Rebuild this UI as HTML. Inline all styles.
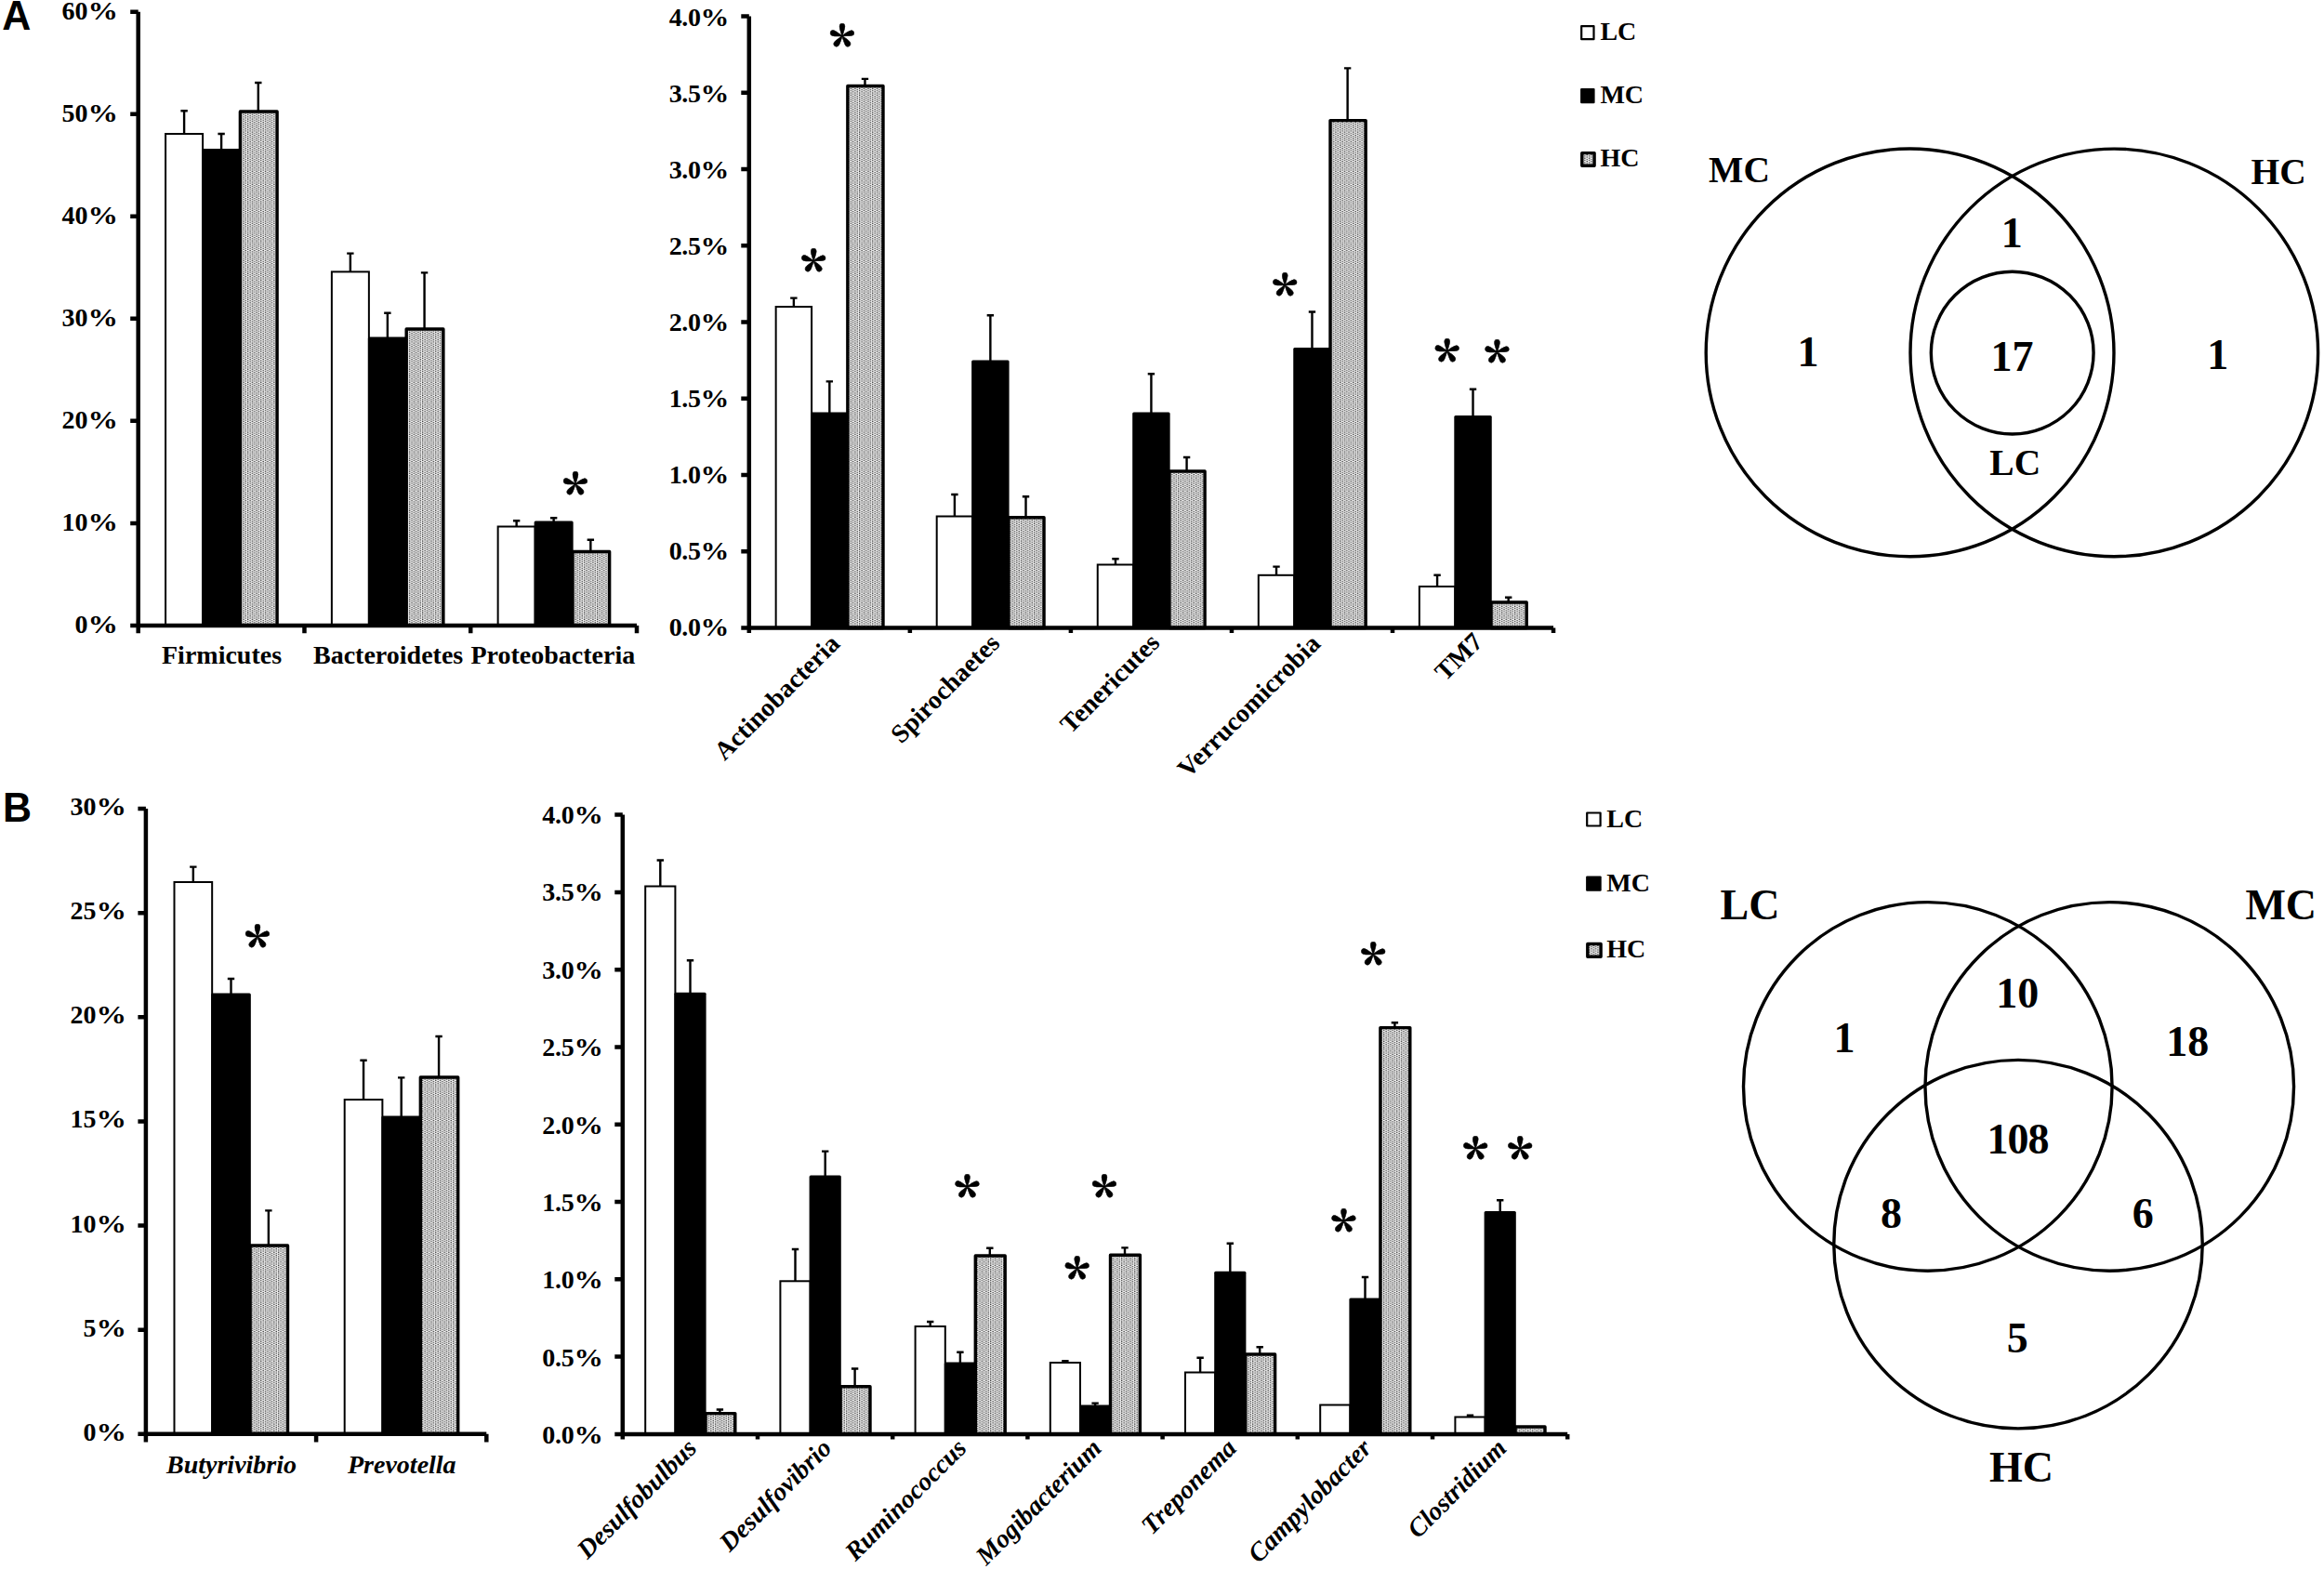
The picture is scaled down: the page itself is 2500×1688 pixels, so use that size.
<!DOCTYPE html>
<html lang="en"><head><meta charset="utf-8"><title>Figure</title>
<style>html,body{margin:0;padding:0;background:#fff}svg{display:block}text{font-family:"Liberation Serif",serif;font-weight:bold;font-size:28px;fill:#000}.pl{font-family:"Liberation Sans",sans-serif;font-weight:bold;font-size:43px}.vl{font-size:39.5px}.vn{font-size:46px}.vb{font-size:46px}.st{font-family:"Noto Serif CJK SC","Liberation Serif",serif;font-weight:900;font-size:56px;text-anchor:middle;stroke:#000;stroke-width:0.5px;stroke-linejoin:round}</style></head><body>
<svg width="2500" height="1688" viewBox="0 0 2500 1688">
<defs><pattern id="dots" width="4.7" height="2.34" patternUnits="userSpaceOnUse"><rect width="4.7" height="2.34" fill="#eeeeee"/><circle cx="1.17" cy="0.58" r="0.68" fill="#2a2a2a"/><circle cx="3.52" cy="1.75" r="0.68" fill="#2a2a2a"/></pattern></defs>
<rect width="2500" height="1688" fill="#fff"/>
<text class="pl" transform="translate(2.2 31.8) scale(1 1.04)">A</text>
<text class="pl" transform="translate(3.1 884) scale(1 1.04)">B</text>
<rect x="178.1" y="144" width="40" height="528.9" fill="#fff" stroke="#000" stroke-width="2"/>
<path d="M198.1 144V119.3M194.4 119.3H201.8" stroke="#000" stroke-width="2.4" fill="none"/>
<rect x="217.1" y="160" width="42" height="512.9" fill="#000" rx="1.5"/>
<path d="M238.1 161V144M234.4 144H241.8" stroke="#000" stroke-width="2.4" fill="none"/>
<rect x="258.4" y="120" width="39.7" height="552.9" fill="url(#dots)" stroke="#000" stroke-width="3.4" stroke-linejoin="round"/>
<path d="M277.8 120V89M274.1 89H281.5" stroke="#000" stroke-width="2.4" fill="none"/>
<rect x="356.87" y="292.4" width="40" height="380.5" fill="#fff" stroke="#000" stroke-width="2"/>
<path d="M376.87 292.4V272.6M373.17 272.6H380.57" stroke="#000" stroke-width="2.4" fill="none"/>
<rect x="395.87" y="362.5" width="42" height="310.4" fill="#000" rx="1.5"/>
<path d="M416.87 363.5V336.7M413.17 336.7H420.57" stroke="#000" stroke-width="2.4" fill="none"/>
<rect x="437.17" y="354" width="39.7" height="318.9" fill="url(#dots)" stroke="#000" stroke-width="3.4" stroke-linejoin="round"/>
<path d="M456.57 354V293.4M452.87 293.4H460.27" stroke="#000" stroke-width="2.4" fill="none"/>
<rect x="535.64" y="566.5" width="40" height="106.4" fill="#fff" stroke="#000" stroke-width="2"/>
<path d="M555.64 566.5V560.3M551.94 560.3H559.34" stroke="#000" stroke-width="2.4" fill="none"/>
<rect x="574.64" y="560.5" width="42" height="112.4" fill="#000" rx="1.5"/>
<path d="M595.64 561.5V557.2M591.94 557.2H599.34" stroke="#000" stroke-width="2.4" fill="none"/>
<rect x="615.94" y="593.5" width="39.7" height="79.4" fill="url(#dots)" stroke="#000" stroke-width="3.4" stroke-linejoin="round"/>
<path d="M635.34 593.5V580.7M631.64 580.7H639.04" stroke="#000" stroke-width="2.4" fill="none"/>
<path d="M148.7 12.8V681.2M140.2 672.9H685.01M140.2 12.8H148.7M140.2 122.82H148.7M140.2 232.83H148.7M140.2 342.85H148.7M140.2 452.87H148.7M140.2 562.88H148.7M327.47 672.9V681.2M506.24 672.9V681.2M685.01 672.9V681.2" stroke="#000" stroke-width="4.5" fill="none"/>
<text x="127.1" y="21" text-anchor="end">60<tspan textLength="32.5" lengthAdjust="spacingAndGlyphs" letter-spacing="0">%</tspan></text>
<text x="127.1" y="131.03" text-anchor="end">50<tspan textLength="32.5" lengthAdjust="spacingAndGlyphs" letter-spacing="0">%</tspan></text>
<text x="127.1" y="241.07" text-anchor="end">40<tspan textLength="32.5" lengthAdjust="spacingAndGlyphs" letter-spacing="0">%</tspan></text>
<text x="127.1" y="351.1" text-anchor="end">30<tspan textLength="32.5" lengthAdjust="spacingAndGlyphs" letter-spacing="0">%</tspan></text>
<text x="127.1" y="461.13" text-anchor="end">20<tspan textLength="32.5" lengthAdjust="spacingAndGlyphs" letter-spacing="0">%</tspan></text>
<text x="127.1" y="571.17" text-anchor="end">10<tspan textLength="32.5" lengthAdjust="spacingAndGlyphs" letter-spacing="0">%</tspan></text>
<text x="127.1" y="681.2" text-anchor="end">0<tspan textLength="32.5" lengthAdjust="spacingAndGlyphs" letter-spacing="0">%</tspan></text>
<text x="174" y="714">Firmicutes</text>
<text x="337" y="714">Bacteroidetes</text>
<text x="506.5" y="714">Proteobacteria</text>
<text class="st" x="618.84" y="554.1">*</text>
<rect x="834.65" y="330" width="38.45" height="345.5" fill="#fff" stroke="#000" stroke-width="2"/>
<path d="M853.88 330V320.6M850.17 320.6H857.58" stroke="#000" stroke-width="2.4" fill="none"/>
<rect x="872.1" y="443.5" width="40.45" height="232" fill="#000" rx="1.5"/>
<path d="M892.33 444.5V410.4M888.62 410.4H896.03" stroke="#000" stroke-width="2.4" fill="none"/>
<rect x="911.85" y="92.5" width="38.15" height="583" fill="url(#dots)" stroke="#000" stroke-width="3.4" stroke-linejoin="round"/>
<path d="M930.48 92.5V84.9M926.77 84.9H934.18" stroke="#000" stroke-width="2.4" fill="none"/>
<rect x="1007.7" y="555.5" width="38.45" height="120" fill="#fff" stroke="#000" stroke-width="2"/>
<path d="M1026.92 555.5V532M1023.22 532H1030.62" stroke="#000" stroke-width="2.4" fill="none"/>
<rect x="1045.15" y="387.5" width="40.45" height="288" fill="#000" rx="1.5"/>
<path d="M1065.37 388.5V339.2M1061.67 339.2H1069.07" stroke="#000" stroke-width="2.4" fill="none"/>
<rect x="1084.9" y="556.7" width="38.15" height="118.8" fill="url(#dots)" stroke="#000" stroke-width="3.4" stroke-linejoin="round"/>
<path d="M1103.52 556.7V534.3M1099.82 534.3H1107.22" stroke="#000" stroke-width="2.4" fill="none"/>
<rect x="1180.75" y="607.5" width="38.45" height="68" fill="#fff" stroke="#000" stroke-width="2"/>
<path d="M1199.97 607.5V601.2M1196.27 601.2H1203.67" stroke="#000" stroke-width="2.4" fill="none"/>
<rect x="1218.2" y="443.5" width="40.45" height="232" fill="#000" rx="1.5"/>
<path d="M1238.42 444.5V402.3M1234.72 402.3H1242.12" stroke="#000" stroke-width="2.4" fill="none"/>
<rect x="1257.95" y="507" width="38.15" height="168.5" fill="url(#dots)" stroke="#000" stroke-width="3.4" stroke-linejoin="round"/>
<path d="M1276.58 507V492M1272.88 492H1280.28" stroke="#000" stroke-width="2.4" fill="none"/>
<rect x="1353.8" y="618.8" width="38.45" height="56.7" fill="#fff" stroke="#000" stroke-width="2"/>
<path d="M1373.02 618.8V609.6M1369.32 609.6H1376.72" stroke="#000" stroke-width="2.4" fill="none"/>
<rect x="1391.25" y="374" width="40.45" height="301.5" fill="#000" rx="1.5"/>
<path d="M1411.47 375V335.5M1407.77 335.5H1415.17" stroke="#000" stroke-width="2.4" fill="none"/>
<rect x="1431" y="129.6" width="38.15" height="545.9" fill="url(#dots)" stroke="#000" stroke-width="3.4" stroke-linejoin="round"/>
<path d="M1449.62 129.6V73.4M1445.92 73.4H1453.33" stroke="#000" stroke-width="2.4" fill="none"/>
<rect x="1526.85" y="631" width="38.45" height="44.5" fill="#fff" stroke="#000" stroke-width="2"/>
<path d="M1546.07 631V618.8M1542.37 618.8H1549.77" stroke="#000" stroke-width="2.4" fill="none"/>
<rect x="1564.3" y="447" width="40.45" height="228.5" fill="#000" rx="1.5"/>
<path d="M1584.52 448V418.7M1580.82 418.7H1588.22" stroke="#000" stroke-width="2.4" fill="none"/>
<rect x="1604.05" y="648" width="38.15" height="27.5" fill="url(#dots)" stroke="#000" stroke-width="3.4" stroke-linejoin="round"/>
<path d="M1622.67 648V642.7M1618.97 642.7H1626.38" stroke="#000" stroke-width="2.4" fill="none"/>
<path d="M805.8 17.55V681.1M797.3 675.5H1671.05M797.3 17.55H805.8M797.3 99.79H805.8M797.3 182.04H805.8M797.3 264.28H805.8M797.3 346.53H805.8M797.3 428.77H805.8M797.3 511.01H805.8M797.3 593.26H805.8M978.85 675.5V681.1M1151.9 675.5V681.1M1324.95 675.5V681.1M1498 675.5V681.1M1671.05 675.5V681.1" stroke="#000" stroke-width="4.5" fill="none"/>
<text x="784.3" y="27.7" text-anchor="end" letter-spacing="-0.4">4.0<tspan textLength="30.8" lengthAdjust="spacingAndGlyphs" letter-spacing="0">%</tspan></text>
<text x="784.3" y="109.69" text-anchor="end" letter-spacing="-0.4">3.5<tspan textLength="30.8" lengthAdjust="spacingAndGlyphs" letter-spacing="0">%</tspan></text>
<text x="784.3" y="191.67" text-anchor="end" letter-spacing="-0.4">3.0<tspan textLength="30.8" lengthAdjust="spacingAndGlyphs" letter-spacing="0">%</tspan></text>
<text x="784.3" y="273.66" text-anchor="end" letter-spacing="-0.4">2.5<tspan textLength="30.8" lengthAdjust="spacingAndGlyphs" letter-spacing="0">%</tspan></text>
<text x="784.3" y="355.65" text-anchor="end" letter-spacing="-0.4">2.0<tspan textLength="30.8" lengthAdjust="spacingAndGlyphs" letter-spacing="0">%</tspan></text>
<text x="784.3" y="437.64" text-anchor="end" letter-spacing="-0.4">1.5<tspan textLength="30.8" lengthAdjust="spacingAndGlyphs" letter-spacing="0">%</tspan></text>
<text x="784.3" y="519.62" text-anchor="end" letter-spacing="-0.4">1.0<tspan textLength="30.8" lengthAdjust="spacingAndGlyphs" letter-spacing="0">%</tspan></text>
<text x="784.3" y="601.61" text-anchor="end" letter-spacing="-0.4">0.5<tspan textLength="30.8" lengthAdjust="spacingAndGlyphs" letter-spacing="0">%</tspan></text>
<text x="784.3" y="683.6" text-anchor="end" letter-spacing="-0.4">0.0<tspan textLength="30.8" lengthAdjust="spacingAndGlyphs" letter-spacing="0">%</tspan></text>
<text transform="translate(904.82 694) rotate(-45)" text-anchor="end">Actinobacteria</text>
<text transform="translate(1076.88 693.5) rotate(-45)" text-anchor="end">Spirochaetes</text>
<text transform="translate(1248.92 693) rotate(-45)" text-anchor="end">Tenericutes</text>
<text transform="translate(1421.97 694) rotate(-45)" text-anchor="end">Verrucomicrobia</text>
<text transform="translate(1596.53 692) rotate(-45)" text-anchor="end">TM7</text>
<text class="st" x="905.85" y="71.65">*</text>
<text class="st" x="875.3" y="314.1">*</text>
<text class="st" x="1382.2" y="340">*</text>
<text class="st" x="1556.7" y="411.4">*</text>
<text class="st" x="1610.4" y="412.3">*</text>
<rect x="1701.2" y="28.1" width="13.3" height="14.1" fill="#fff" stroke="#000" stroke-width="2.2" stroke-linejoin="round"/>
<rect x="1700.1" y="94.9" width="15.5" height="16.3" fill="#000" rx="1.2"/>
<rect x="1701.8" y="164.6" width="13.3" height="13.7" fill="url(#dots)" stroke="#000" stroke-width="3.4" stroke-linejoin="round"/>
<text x="1721.4" y="43.3">LC</text>
<text x="1721.4" y="111.2">MC</text>
<text x="1721.4" y="179.2">HC</text>
<rect x="187.5" y="949" width="40.67" height="593.8" fill="#fff" stroke="#000" stroke-width="2"/>
<path d="M207.84 949V932.6M204.14 932.6H211.53" stroke="#000" stroke-width="2.4" fill="none"/>
<rect x="227.17" y="1068.5" width="42.67" height="474.3" fill="#000" rx="1.5"/>
<path d="M248.51 1069.5V1053M244.81 1053H252.21" stroke="#000" stroke-width="2.4" fill="none"/>
<rect x="269.14" y="1340" width="40.37" height="202.8" fill="url(#dots)" stroke="#000" stroke-width="3.4" stroke-linejoin="round"/>
<path d="M288.88 1340V1302.4M285.18 1302.4H292.57" stroke="#000" stroke-width="2.4" fill="none"/>
<rect x="370.7" y="1183" width="40.67" height="359.8" fill="#fff" stroke="#000" stroke-width="2"/>
<path d="M391.04 1183V1140.8M387.34 1140.8H394.74" stroke="#000" stroke-width="2.4" fill="none"/>
<rect x="410.37" y="1200.5" width="42.67" height="342.3" fill="#000" rx="1.5"/>
<path d="M431.71 1201.5V1159.4M428.01 1159.4H435.41" stroke="#000" stroke-width="2.4" fill="none"/>
<rect x="452.34" y="1159" width="40.37" height="383.8" fill="url(#dots)" stroke="#000" stroke-width="3.4" stroke-linejoin="round"/>
<path d="M472.08 1159V1115M468.38 1115H475.78" stroke="#000" stroke-width="2.4" fill="none"/>
<path d="M156.9 870V1551.4M148.4 1542.8H523.3M148.4 870H156.9M148.4 982.13H156.9M148.4 1094.27H156.9M148.4 1206.4H156.9M148.4 1318.53H156.9M148.4 1430.67H156.9M340.1 1542.8V1551.4M523.3 1542.8V1551.4" stroke="#000" stroke-width="4.5" fill="none"/>
<text x="136.1" y="876.8" text-anchor="end">30<tspan textLength="32.5" lengthAdjust="spacingAndGlyphs" letter-spacing="0">%</tspan></text>
<text x="136.1" y="989.02" text-anchor="end">25<tspan textLength="32.5" lengthAdjust="spacingAndGlyphs" letter-spacing="0">%</tspan></text>
<text x="136.1" y="1101.23" text-anchor="end">20<tspan textLength="32.5" lengthAdjust="spacingAndGlyphs" letter-spacing="0">%</tspan></text>
<text x="136.1" y="1213.45" text-anchor="end">15<tspan textLength="32.5" lengthAdjust="spacingAndGlyphs" letter-spacing="0">%</tspan></text>
<text x="136.1" y="1325.67" text-anchor="end">10<tspan textLength="32.5" lengthAdjust="spacingAndGlyphs" letter-spacing="0">%</tspan></text>
<text x="136.1" y="1437.88" text-anchor="end">5<tspan textLength="32.5" lengthAdjust="spacingAndGlyphs" letter-spacing="0">%</tspan></text>
<text x="136.1" y="1550.1" text-anchor="end">0<tspan textLength="32.5" lengthAdjust="spacingAndGlyphs" letter-spacing="0">%</tspan></text>
<text x="179" y="1584.8" font-style="italic">Butyrivibrio</text>
<text x="374" y="1584.8" font-style="italic">Prevotella</text>
<text class="st" x="276.95" y="1041.1">*</text>
<rect x="694.2" y="953.5" width="32.2" height="589.4" fill="#fff" stroke="#000" stroke-width="2"/>
<path d="M710.3 953.5V925.5M706.6 925.5H714" stroke="#000" stroke-width="2.4" fill="none"/>
<rect x="725.4" y="1067.8" width="34.2" height="475.1" fill="#000" rx="1.5"/>
<path d="M742.5 1068.8V1033.3M738.8 1033.3H746.2" stroke="#000" stroke-width="2.4" fill="none"/>
<rect x="758.9" y="1520.6" width="31.9" height="22.3" fill="url(#dots)" stroke="#000" stroke-width="3.4" stroke-linejoin="round"/>
<path d="M774.4 1520.6V1516.5M770.7 1516.5H778.1" stroke="#000" stroke-width="2.4" fill="none"/>
<rect x="839.4" y="1378.3" width="32.2" height="164.6" fill="#fff" stroke="#000" stroke-width="2"/>
<path d="M855.5 1378.3V1344M851.8 1344H859.2" stroke="#000" stroke-width="2.4" fill="none"/>
<rect x="870.6" y="1264.5" width="34.2" height="278.4" fill="#000" rx="1.5"/>
<path d="M887.7 1265.5V1238.6M884 1238.6H891.4" stroke="#000" stroke-width="2.4" fill="none"/>
<rect x="904.1" y="1491.7" width="31.9" height="51.2" fill="url(#dots)" stroke="#000" stroke-width="3.4" stroke-linejoin="round"/>
<path d="M919.6 1491.7V1472.5M915.9 1472.5H923.3" stroke="#000" stroke-width="2.4" fill="none"/>
<rect x="984.6" y="1427" width="32.2" height="115.9" fill="#fff" stroke="#000" stroke-width="2"/>
<path d="M1000.7 1427V1422M997 1422H1004.4" stroke="#000" stroke-width="2.4" fill="none"/>
<rect x="1015.8" y="1465.5" width="34.2" height="77.4" fill="#000" rx="1.5"/>
<path d="M1032.9 1466.5V1454.8M1029.2 1454.8H1036.6" stroke="#000" stroke-width="2.4" fill="none"/>
<rect x="1049.3" y="1351" width="31.9" height="191.9" fill="url(#dots)" stroke="#000" stroke-width="3.4" stroke-linejoin="round"/>
<path d="M1064.8 1351V1342.7M1061.1 1342.7H1068.5" stroke="#000" stroke-width="2.4" fill="none"/>
<rect x="1129.8" y="1466" width="32.2" height="76.9" fill="#fff" stroke="#000" stroke-width="2"/>
<path d="M1145.9 1466V1464.2M1142.2 1464.2H1149.6" stroke="#000" stroke-width="2.4" fill="none"/>
<rect x="1161" y="1511.5" width="34.2" height="31.4" fill="#000" rx="1.5"/>
<path d="M1178.1 1512.5V1509.6M1174.4 1509.6H1181.8" stroke="#000" stroke-width="2.4" fill="none"/>
<rect x="1194.5" y="1350.3" width="31.9" height="192.6" fill="url(#dots)" stroke="#000" stroke-width="3.4" stroke-linejoin="round"/>
<path d="M1210 1350.3V1342.4M1206.3 1342.4H1213.7" stroke="#000" stroke-width="2.4" fill="none"/>
<rect x="1275" y="1476.5" width="32.2" height="66.4" fill="#fff" stroke="#000" stroke-width="2"/>
<path d="M1291.1 1476.5V1460.7M1287.4 1460.7H1294.8" stroke="#000" stroke-width="2.4" fill="none"/>
<rect x="1306.2" y="1367.7" width="34.2" height="175.2" fill="#000" rx="1.5"/>
<path d="M1323.3 1368.7V1337.7M1319.6 1337.7H1327" stroke="#000" stroke-width="2.4" fill="none"/>
<rect x="1339.7" y="1457" width="31.9" height="85.9" fill="url(#dots)" stroke="#000" stroke-width="3.4" stroke-linejoin="round"/>
<path d="M1355.2 1457V1449.2M1351.5 1449.2H1358.9" stroke="#000" stroke-width="2.4" fill="none"/>
<rect x="1420.2" y="1511.5" width="32.2" height="31.4" fill="#fff" stroke="#000" stroke-width="2"/>
<rect x="1451.4" y="1396.6" width="34.2" height="146.3" fill="#000" rx="1.5"/>
<path d="M1468.5 1397.6V1374M1464.8 1374H1472.2" stroke="#000" stroke-width="2.4" fill="none"/>
<rect x="1484.9" y="1105.6" width="31.9" height="437.3" fill="url(#dots)" stroke="#000" stroke-width="3.4" stroke-linejoin="round"/>
<path d="M1500.4 1105.6V1100.2M1496.7 1100.2H1504.1" stroke="#000" stroke-width="2.4" fill="none"/>
<rect x="1565.4" y="1524.5" width="32.2" height="18.4" fill="#fff" stroke="#000" stroke-width="2"/>
<path d="M1581.5 1524.5V1522.7M1577.8 1522.7H1585.2" stroke="#000" stroke-width="2.4" fill="none"/>
<rect x="1596.6" y="1303" width="34.2" height="239.9" fill="#000" rx="1.5"/>
<path d="M1613.7 1304V1291.3M1610 1291.3H1617.4" stroke="#000" stroke-width="2.4" fill="none"/>
<rect x="1630.1" y="1535" width="31.9" height="7.9" fill="url(#dots)" stroke="#000" stroke-width="3.4" stroke-linejoin="round"/>
<path d="M669.8 876.6V1548.5M661.3 1542.9H1686.2M661.3 876.6H669.8M661.3 959.89H669.8M661.3 1043.17H669.8M661.3 1126.46H669.8M661.3 1209.75H669.8M661.3 1293.04H669.8M661.3 1376.33H669.8M661.3 1459.61H669.8M815 1542.9V1548.5M960.2 1542.9V1548.5M1105.4 1542.9V1548.5M1250.6 1542.9V1548.5M1395.8 1542.9V1548.5M1541 1542.9V1548.5M1686.2 1542.9V1548.5" stroke="#000" stroke-width="4.5" fill="none"/>
<text x="648.8" y="886.1" text-anchor="end" letter-spacing="-0.27">4.0<tspan textLength="31.4" lengthAdjust="spacingAndGlyphs" letter-spacing="0">%</tspan></text>
<text x="648.8" y="969.46" text-anchor="end" letter-spacing="-0.27">3.5<tspan textLength="31.4" lengthAdjust="spacingAndGlyphs" letter-spacing="0">%</tspan></text>
<text x="648.8" y="1052.83" text-anchor="end" letter-spacing="-0.27">3.0<tspan textLength="31.4" lengthAdjust="spacingAndGlyphs" letter-spacing="0">%</tspan></text>
<text x="648.8" y="1136.19" text-anchor="end" letter-spacing="-0.27">2.5<tspan textLength="31.4" lengthAdjust="spacingAndGlyphs" letter-spacing="0">%</tspan></text>
<text x="648.8" y="1219.55" text-anchor="end" letter-spacing="-0.27">2.0<tspan textLength="31.4" lengthAdjust="spacingAndGlyphs" letter-spacing="0">%</tspan></text>
<text x="648.8" y="1302.91" text-anchor="end" letter-spacing="-0.27">1.5<tspan textLength="31.4" lengthAdjust="spacingAndGlyphs" letter-spacing="0">%</tspan></text>
<text x="648.8" y="1386.28" text-anchor="end" letter-spacing="-0.27">1.0<tspan textLength="31.4" lengthAdjust="spacingAndGlyphs" letter-spacing="0">%</tspan></text>
<text x="648.8" y="1469.64" text-anchor="end" letter-spacing="-0.27">0.5<tspan textLength="31.4" lengthAdjust="spacingAndGlyphs" letter-spacing="0">%</tspan></text>
<text x="648.8" y="1553" text-anchor="end" letter-spacing="-0.27">0.0<tspan textLength="31.4" lengthAdjust="spacingAndGlyphs" letter-spacing="0">%</tspan></text>
<text transform="translate(750.9 1559.5) rotate(-45)" text-anchor="end" font-style="italic">Desulfobulbus</text>
<text transform="translate(896.1 1559.5) rotate(-45)" text-anchor="end" font-style="italic">Desulfovibrio</text>
<text transform="translate(1041.3 1559.5) rotate(-45)" text-anchor="end" font-style="italic">Ruminococcus</text>
<text transform="translate(1186.5 1559.5) rotate(-45)" text-anchor="end" font-style="italic">Mogibacterium</text>
<text transform="translate(1331.7 1559.5) rotate(-45)" text-anchor="end" font-style="italic">Treponema</text>
<text transform="translate(1476.9 1559.5) rotate(-45)" text-anchor="end" font-style="italic">Campylobacter</text>
<text transform="translate(1622.1 1559.5) rotate(-45)" text-anchor="end" font-style="italic">Clostridium</text>
<text class="st" x="1040.5" y="1310.4">*</text>
<text class="st" x="1187.95" y="1310.4">*</text>
<text class="st" x="1158.6" y="1398.3">*</text>
<text class="st" x="1477.2" y="1059.8">*</text>
<text class="st" x="1445.5" y="1346.5">*</text>
<text class="st" x="1587.3" y="1269.3">*</text>
<text class="st" x="1635.3" y="1269.3">*</text>
<rect x="1707.2" y="874.5" width="14.4" height="14" fill="#fff" stroke="#000" stroke-width="2.2" stroke-linejoin="round"/>
<rect x="1706.1" y="942.4" width="16.6" height="16.3" fill="#000" rx="1.2"/>
<rect x="1707.8" y="1015.5" width="14.3" height="13.8" fill="url(#dots)" stroke="#000" stroke-width="3.4" stroke-linejoin="round"/>
<text x="1728.3" y="889.6">LC</text>
<text x="1728.3" y="958.7">MC</text>
<text x="1728.3" y="1029.8">HC</text>
<g fill="none" stroke="#000" stroke-width="3.4">
<circle cx="2054.6" cy="379.4" r="219.4"/><circle cx="2274.3" cy="379.4" r="219.3"/><circle cx="2164.7" cy="379.6" r="87.4"/>
</g>
<text class="vl" x="1838.1" y="195.6">MC</text>
<text class="vl" x="2421.6" y="198">HC</text>
<text class="vl" x="2140.3" y="511.3">LC</text>
<text class="vn" x="2164.2" y="266" text-anchor="middle">1</text>
<text class="vn" x="1945.1" y="393.5" text-anchor="middle">1</text>
<text class="vn" x="2385.8" y="397" text-anchor="middle">1</text>
<text class="vn" x="2164.5" y="398.9" text-anchor="middle">17</text>
<g fill="none" stroke="#000" stroke-width="3.4">
<circle cx="2073.8" cy="1168.9" r="198.3"/><circle cx="2269.25" cy="1168.9" r="198.3"/><circle cx="2171" cy="1338.65" r="198.25"/>
</g>
<text class="vb" x="1850.5" y="989.1">LC</text>
<text class="vb" x="2415.4" y="989.1">MC</text>
<text class="vb" x="2140" y="1594.3">HC</text>
<text class="vn" x="2170.3" y="1084" text-anchor="middle">10</text>
<text class="vn" x="1984" y="1131.7" text-anchor="middle">1</text>
<text class="vn" x="2353.2" y="1135.6" text-anchor="middle">18</text>
<text class="vn" x="2170.6" y="1240.8" text-anchor="middle" letter-spacing="-1">108</text>
<text class="vn" x="2034.5" y="1320.5" text-anchor="middle">8</text>
<text class="vn" x="2305.2" y="1320.5" text-anchor="middle">6</text>
<text class="vn" x="2170.3" y="1455.4" text-anchor="middle">5</text>
</svg></body></html>
